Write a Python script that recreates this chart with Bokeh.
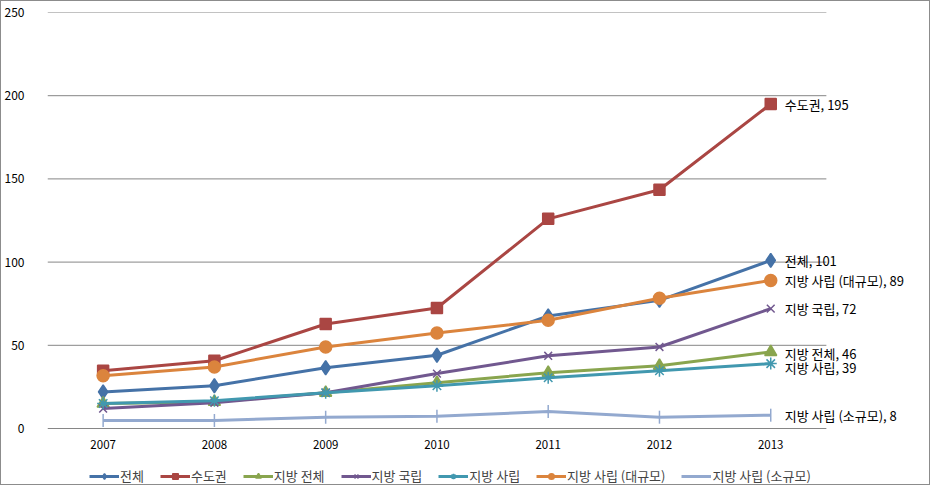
from bokeh.plotting import figure
from bokeh.models import Legend, LegendItem, ColumnDataSource, FixedTicker, Range1d
from bokeh.core.properties import value
from bokeh.embed import file_html
from bokeh.resources import INLINE

years = ["2007", "2008", "2009", "2010", "2011", "2012", "2013"]
names = ["전체", "수도권", "지방 전체", "지방 국립", "지방 사립", "지방 사립 (대규모)", "지방 사립 (소규모)"]
s_total = [22, 25.7, 36.5, 44, 67.6, 77, 101]
s_capital = [34.7, 40.7, 62.8, 72.4, 126, 143.5, 195]
s_local = [15, 16, 21.5, 27.5, 33.5, 37.7, 46]
s_national = [12, 15.5, 21.5, 33, 43.7, 49, 72]
s_private = [15, 16.7, 21.5, 25.7, 30.5, 34.7, 39]
s_large = [31.7, 37, 49, 57.4, 65, 78.3, 89]
s_small = [4.8, 4.8, 6.8, 7.4, 10.2, 6.8, 8]
y_ticks = [0, 50, 100, 150, 200, 250]

series = [s_total, s_capital, s_local, s_national, s_private, s_large, s_small]
colors = ["#4572A7", "#AA4643", "#89A54E", "#71588F", "#4198AF", "#DB843D", "#93A9CF"]
markers = ["diamond", "square", "triangle", "x", "asterisk", "circle", "dash"]
msizes = [14, 11, 12, 11, 12, 12, 13]
label_dy = [0, 0, 2, 0, 4, 0, 0]

FONT = "Noto Sans CJK KR"
xs = list(range(len(years)))
n = len(years)

W, H = 930, 485
LEFT, TOP = 37, 11
unit_x = 112.4
unit_y = 416 / 250.0
x_end = -0.5 + (W - LEFT) / unit_x
y_start = 250 - (H - TOP) / unit_y

p = figure(x_range=Range1d(-0.5, x_end), y_range=Range1d(y_start, 250), width=W, height=H,
           output_backend="svg", toolbar_location=None,
           min_border_left=LEFT, min_border_right=0, min_border_top=TOP, min_border_bottom=0)
p.styles = {"border": "1px solid #8c8c8c"}
p.outline_line_color = None
p.background_fill_color = "white"
p.xaxis.visible = False
p.xgrid.grid_line_color = None
p.ygrid.grid_line_color = None
p.yaxis.ticker = FixedTicker(ticks=y_ticks)
p.yaxis.axis_line_color = None
p.yaxis.major_tick_line_color = None
p.yaxis.minor_tick_line_color = None
p.yaxis.major_label_text_font = FONT
p.yaxis.major_label_text_font_size = "12px"
p.yaxis.major_label_text_color = "black"
p.yaxis.major_label_standoff = 17

# horizontal gridlines across the category span
p.segment(x0=[-0.5] * len(y_ticks), x1=[n - 0.5] * len(y_ticks), y0=y_ticks, y1=y_ticks,
          line_color="#868686", line_width=1)

# category (year) labels under the zero line
p.text(x=xs, y=[0] * n, text=years, y_offset=16, text_align="center",
       text_baseline="middle", text_font=value(FONT), text_font_size="11.5px",
       text_color="black")

items = []
for name, vals, c, m, ms, dy in zip(names, series, colors, markers, msizes, label_dy):
    src = ColumnDataSource(dict(x=xs, y=vals))
    r1 = p.line("x", "y", source=src, line_color=c, line_width=3)
    if m == "dash":
        r2 = p.scatter("x", "y", source=src, marker="dash", angle=1.5708, size=ms,
                       line_color=c, line_width=1.5)
    else:
        r2 = p.scatter("x", "y", source=src, marker=m, size=ms, fill_color=c,
                       line_color=c, line_width=1.5)
    items.append(LegendItem(label=name, renderers=[r1, r2]))
    last = vals[-1]
    p.text(x=[xs[-1]], y=[last], text=[f"{name}, {round(last)}"],
           x_offset=14, y_offset=dy, text_baseline="middle",
           text_font=value(FONT), text_font_size="13px", text_color="black")

legend = Legend(items=items, orientation="horizontal", location=(42, 1),
                label_text_font=FONT, label_text_font_size="13px",
                glyph_width=30, glyph_height=14, spacing=16, padding=2, margin=0,
                border_line_color=None, background_fill_alpha=0, label_standoff=1)
p.add_layout(legend, "center")

open("out.html", "w").write(file_html(p, INLINE))
